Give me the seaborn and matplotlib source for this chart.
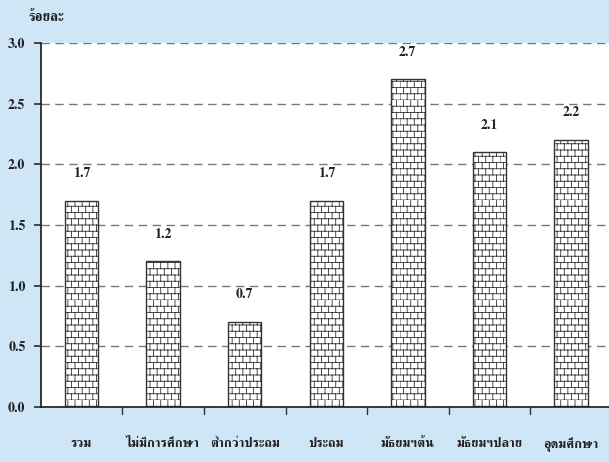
import matplotlib
matplotlib.use('Agg')
import numpy as np
import matplotlib.pyplot as plt
import matplotlib.hatch as mhatch
from matplotlib.path import Path
import seaborn as sns
import pandas as pd

# ── DATA ───────────────────────────────────────────────────────
categories = ['รวม', 'ไม่มีการศึกษา', 'ต่ำกว่าประถม', 'ประถม',
              'มัธยมฯต้น', 'มัธยมฯปลาย', 'อุดมศึกษา']
values     = [1.7, 1.2, 0.7, 1.7, 2.7, 2.1, 2.2]
y_ticks    = [0.0, 0.5, 1.0, 1.5, 2.0, 2.5, 3.0]
y_label    = 'ร้อยละ'


# ── HELPER: brick hatch (replaces the built-in '+' pattern) ────
class BrickHatch(mhatch.HatchPatternBase):
    def __init__(self, hatch, density):
        self.rows = 16 if '+' in hatch else 0
        self.cols = 14
        self.num_lines = self.rows * (1 + self.cols)
        self.num_vertices = self.num_lines * 2

    def set_vertices_and_codes(self, vertices, codes):
        pts = []
        for i in range(self.rows):
            y0, y1 = i / self.rows, (i + 1) / self.rows
            pts += [(0, y0), (1, y0)]
            off = 0.5 * (i % 2)
            for j in range(self.cols):
                x = (j + off) / self.cols
                pts += [(x, y0), (x, y1)]
        vertices[:] = np.array(pts)
        codes[0::2] = Path.MOVETO
        codes[1::2] = Path.LINETO


mhatch._hatch_types = [BrickHatch]

sns.set_theme(style='white')
plt.rcParams['font.family'] = ['FreeSerif', 'DejaVu Serif']
plt.rcParams['font.weight'] = 'bold'
plt.rcParams['hatch.linewidth'] = 0.6
plt.rcParams['hatch.color'] = '#444444'

df = pd.DataFrame({'cat': categories, 'val': values})

fig = plt.figure(figsize=(6.09, 4.62), dpi=100, facecolor='#cfe6f7')
ax = fig.add_axes([0.067, 0.119, 0.935, 0.788])
ax.set_facecolor('white')

sns.barplot(data=df, x='cat', y='val', ax=ax, color='white',
            width=0.41, edgecolor='#333333', linewidth=1.0)
for p in ax.patches:
    p.set_hatch('+')

# value labels above bars
for i, v in enumerate(values):
    ax.text(i, v + 0.17, f'{v:.1f}', ha='center', va='bottom',
            fontsize=10, fontweight='bold', color='#222222')

ax.set_ylim(0, 3.0)
ax.set_xlim(-0.5, 6.48)
ax.set_yticks(y_ticks)
ax.set_yticklabels([f'{t:.1f}' for t in y_ticks], fontsize=10,
                   fontweight='bold', color='#222222')
ax.yaxis.grid(True, linestyle=(0, (6, 4)), color='#777777', linewidth=1)
ax.set_axisbelow(True)
ax.set_xticks(range(len(categories)))
ax.set_xticklabels(categories, fontsize=9.5, fontweight='bold', color='#222222')
ax.tick_params(axis='x', length=0, pad=22)
ax.tick_params(axis='y', length=5, left=True, color='#333333', pad=6)
ax.set_xlabel('')
ax.set_ylabel('')

# separator ticks between categories
for b in [0.5, 1.5, 2.5, 3.5, 4.5, 5.5]:
    ax.plot([b, b], [0, -0.06], color='#333333', lw=1, clip_on=False)
for s in ['top', 'right']:
    ax.spines[s].set_visible(False)
ax.spines['left'].set_color('#222222')
ax.spines['bottom'].set_color('#222222')

fig.text(0.047, 0.955, y_label, fontsize=10, fontweight='bold',
         ha='left', color='#222222')

fig.savefig('out.png', dpi=100, facecolor=fig.get_facecolor())
